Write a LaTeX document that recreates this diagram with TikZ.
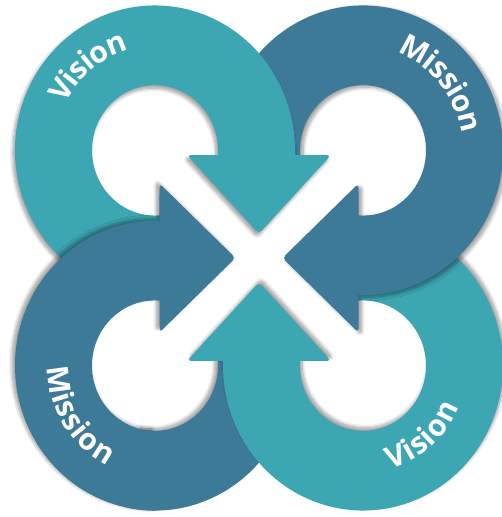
\documentclass[tikz,border=0pt]{standalone}
\usepackage{fontspec}
\setmainfont{Open Sans}
\usetikzlibrary{shadows.blur,decorations.text}
\definecolor{ringteal}{RGB}{60,166,179}
\definecolor{ringblue}{RGB}{61,122,152}
\newcommand\lblfmt{\fontsize{30}{36}\selectfont\bfseries\color{white}}
\tikzset{
  ringpiece/.style 2 args={blur shadow={shadow xshift=#1, shadow yshift=#2, shadow blur radius=3.5pt, shadow blur steps=8, shadow opacity=40}},
  ringlabel/.style={decorate, decoration={text along path, text align=center, raise=-8pt, text={|\lblfmt|#1}}},
}
\begin{document}
\begin{tikzpicture}[x=1pt,y=1pt]
\useasboundingbox (0,0) rectangle (502,517);
\begin{scope}[shift={(259,259)}, yscale=1.035]
  % BL tail (under BR head)
  \begin{scope}[rotate=90]
    \fill[ringblue, ringpiece={-3pt}{2pt}] (-104,104) ++(280:140) arc[start angle=280, end angle=170, radius=140] -- ++(170:-77) arc[start angle=170, end angle=280, radius=63] -- cycle;
  \end{scope}
  % BR full
  \begin{scope}[rotate=180]
    \fill[ringteal, ringpiece={2pt}{3pt}] (-104,104) ++(280:140) arc[start angle=280, end angle=-1.84, radius=140] [rounded corners=4pt] -- (72,99.5) -- (0,23.5) -- (-72,99.5) [sharp corners] -- (-41.16,99.5) arc[start angle=-4.1, end angle=280, radius=63] -- cycle;
  \end{scope}
  % TR full
  \begin{scope}[rotate=-90]
    \fill[ringblue, ringpiece={3pt}{-2pt}] (-104,104) ++(280:140) arc[start angle=280, end angle=-1.84, radius=140] [rounded corners=4pt] -- (72,99.5) -- (0,23.5) -- (-72,99.5) [sharp corners] -- (-41.16,99.5) arc[start angle=-4.1, end angle=280, radius=63] -- cycle;
  \end{scope}
  % TL full
  \begin{scope}[rotate=0]
    \fill[ringteal, ringpiece={-2pt}{-3pt}] (-104,104) ++(280:140) arc[start angle=280, end angle=-1.84, radius=140] [rounded corners=4pt] -- (72,99.5) -- (0,23.5) -- (-72,99.5) [sharp corners] -- (-41.16,99.5) arc[start angle=-4.1, end angle=280, radius=63] -- cycle;
  \end{scope}
  % BL head
  \begin{scope}[rotate=90]
    \fill[ringblue, ringpiece={-3pt}{2pt}] (-244,104) arc[start angle=180, end angle=-1.84, radius=140] [rounded corners=4pt] -- (72,99.5) -- (0,23.5) -- (-72,99.5) [sharp corners] -- (-41.16,99.5) arc[start angle=-4.1, end angle=180, radius=63] -- cycle;
    % seam patch (no shadow) hiding the join of the two BL pieces
    \fill[ringblue] (-104,104) ++(175:139.6) arc[start angle=175, end angle=200, radius=139.6] -- ++(200:-76.2) arc[start angle=200, end angle=175, radius=63.4] -- cycle;
  \end{scope}
  % labels
  \path[ringlabel=Vision] (-104,104) ++(179:108) arc[start angle=179, end angle=79, radius=108];
  \path[ringlabel=Mission] (104,104) ++(90:108) arc[start angle=90, end angle=-10, radius=108];
  \path[ringlabel=Mission] (-104,-104) ++(162.5:100) arc[start angle=162.5, end angle=262.5, radius=100];
  \path[ringlabel=Vision] (104,-104) ++(-99:96) arc[start angle=-99, end angle=1, radius=96];
\end{scope}
\end{tikzpicture}
\end{document}
